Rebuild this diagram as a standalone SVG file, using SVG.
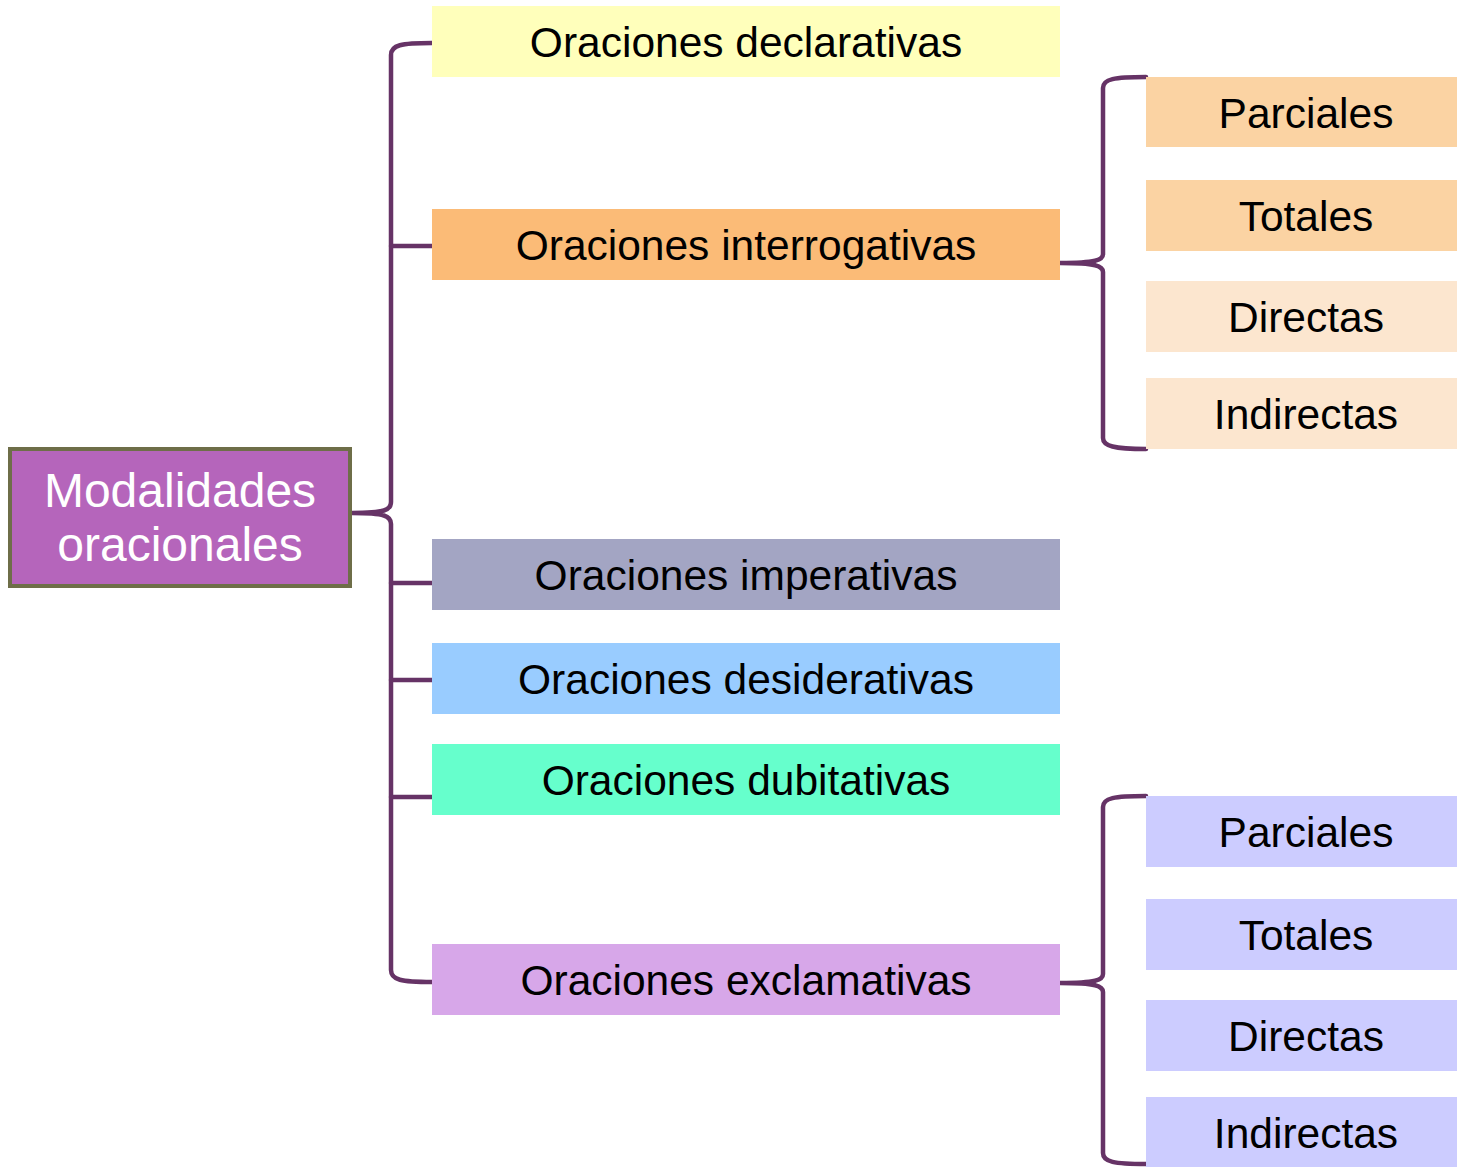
<svg xmlns="http://www.w3.org/2000/svg" width="1457" height="1167" viewBox="0 0 1457 1167">
<style>
text{font-family:"Liberation Sans",Arial,sans-serif;font-size:42.5px;fill:#000;text-anchor:middle}
.c{fill:none;stroke:#663366;stroke-width:4.5;stroke-linecap:round;stroke-linejoin:round}
</style>
<rect width="1457" height="1167" fill="#fff"/>
<g id="connectors">
<path class="c" d="M432,43 C401,43 391,45 391,55 L391,502 C391,510 385,513 352,513 C385,513 391,516 391,524 L391,970 C391,980 401,982 432,982"/>
<path class="c" d="M391,246 H432 M391,583 H432 M391,680 H432 M391,797 H432"/>
<path class="c" d="M1146,77 C1114,77 1103,79 1103,88 L1103,254 C1103,260 1096,263 1060,263 C1096,263 1103,266 1103,272 L1103,438 C1103,446 1114,449 1146,449"/>
<path class="c" d="M1146,796 C1114,796 1103,798 1103,807 L1103,974 C1103,980 1096,983 1060,983 C1096,983 1103,986 1103,992 L1103,1153 C1103,1162 1114,1164 1146,1164"/>
</g>
<g id="root"><rect x="10" y="449" width="340" height="137" fill="#b565bb" stroke="#6e6e48" stroke-width="4"/><text x="180" y="507" style="font-size:48px;fill:#fff">Modalidades</text><text x="180" y="561" style="font-size:48px;fill:#fff">oracionales</text></g>
<g id="declarativas"><rect x="432" y="6" width="628" height="71" fill="#ffffbb"/><text x="746" y="57">Oraciones declarativas</text></g>
<g id="interrogativas"><rect x="432" y="209" width="628" height="71" fill="#fbbb77"/><text x="746" y="260">Oraciones interrogativas</text></g>
<g id="imperativas"><rect x="432" y="539" width="628" height="71" fill="#a3a5c3"/><text x="746" y="590">Oraciones imperativas</text></g>
<g id="desiderativas"><rect x="432" y="643" width="628" height="71" fill="#99ccff"/><text x="746" y="694">Oraciones desiderativas</text></g>
<g id="dubitativas"><rect x="432" y="744" width="628" height="71" fill="#66ffcc"/><text x="746" y="795">Oraciones dubitativas</text></g>
<g id="exclamativas"><rect x="432" y="944" width="628" height="71" fill="#d7a7e9"/><text x="746" y="995">Oraciones exclamativas</text></g>
<g id="int-parciales"><rect x="1146" y="77" width="320" height="70" fill="#fbd3a3"/><text x="1306" y="128">Parciales</text></g>
<g id="int-totales"><rect x="1146" y="180" width="320" height="71" fill="#fbd3a3"/><text x="1306" y="231">Totales</text></g>
<g id="int-directas"><rect x="1146" y="281" width="320" height="71" fill="#fce6cf"/><text x="1306" y="332">Directas</text></g>
<g id="int-indirectas"><rect x="1146" y="378" width="320" height="71" fill="#fce6cf"/><text x="1306" y="429">Indirectas</text></g>
<g id="exc-parciales"><rect x="1146" y="796" width="320" height="71" fill="#ccccff"/><text x="1306" y="847">Parciales</text></g>
<g id="exc-totales"><rect x="1146" y="899" width="320" height="71" fill="#ccccff"/><text x="1306" y="950">Totales</text></g>
<g id="exc-directas"><rect x="1146" y="1000" width="320" height="71" fill="#ccccff"/><text x="1306" y="1051">Directas</text></g>
<g id="exc-indirectas"><rect x="1146" y="1097" width="320" height="70" fill="#ccccff"/><text x="1306" y="1148">Indirectas</text></g>
</svg>
